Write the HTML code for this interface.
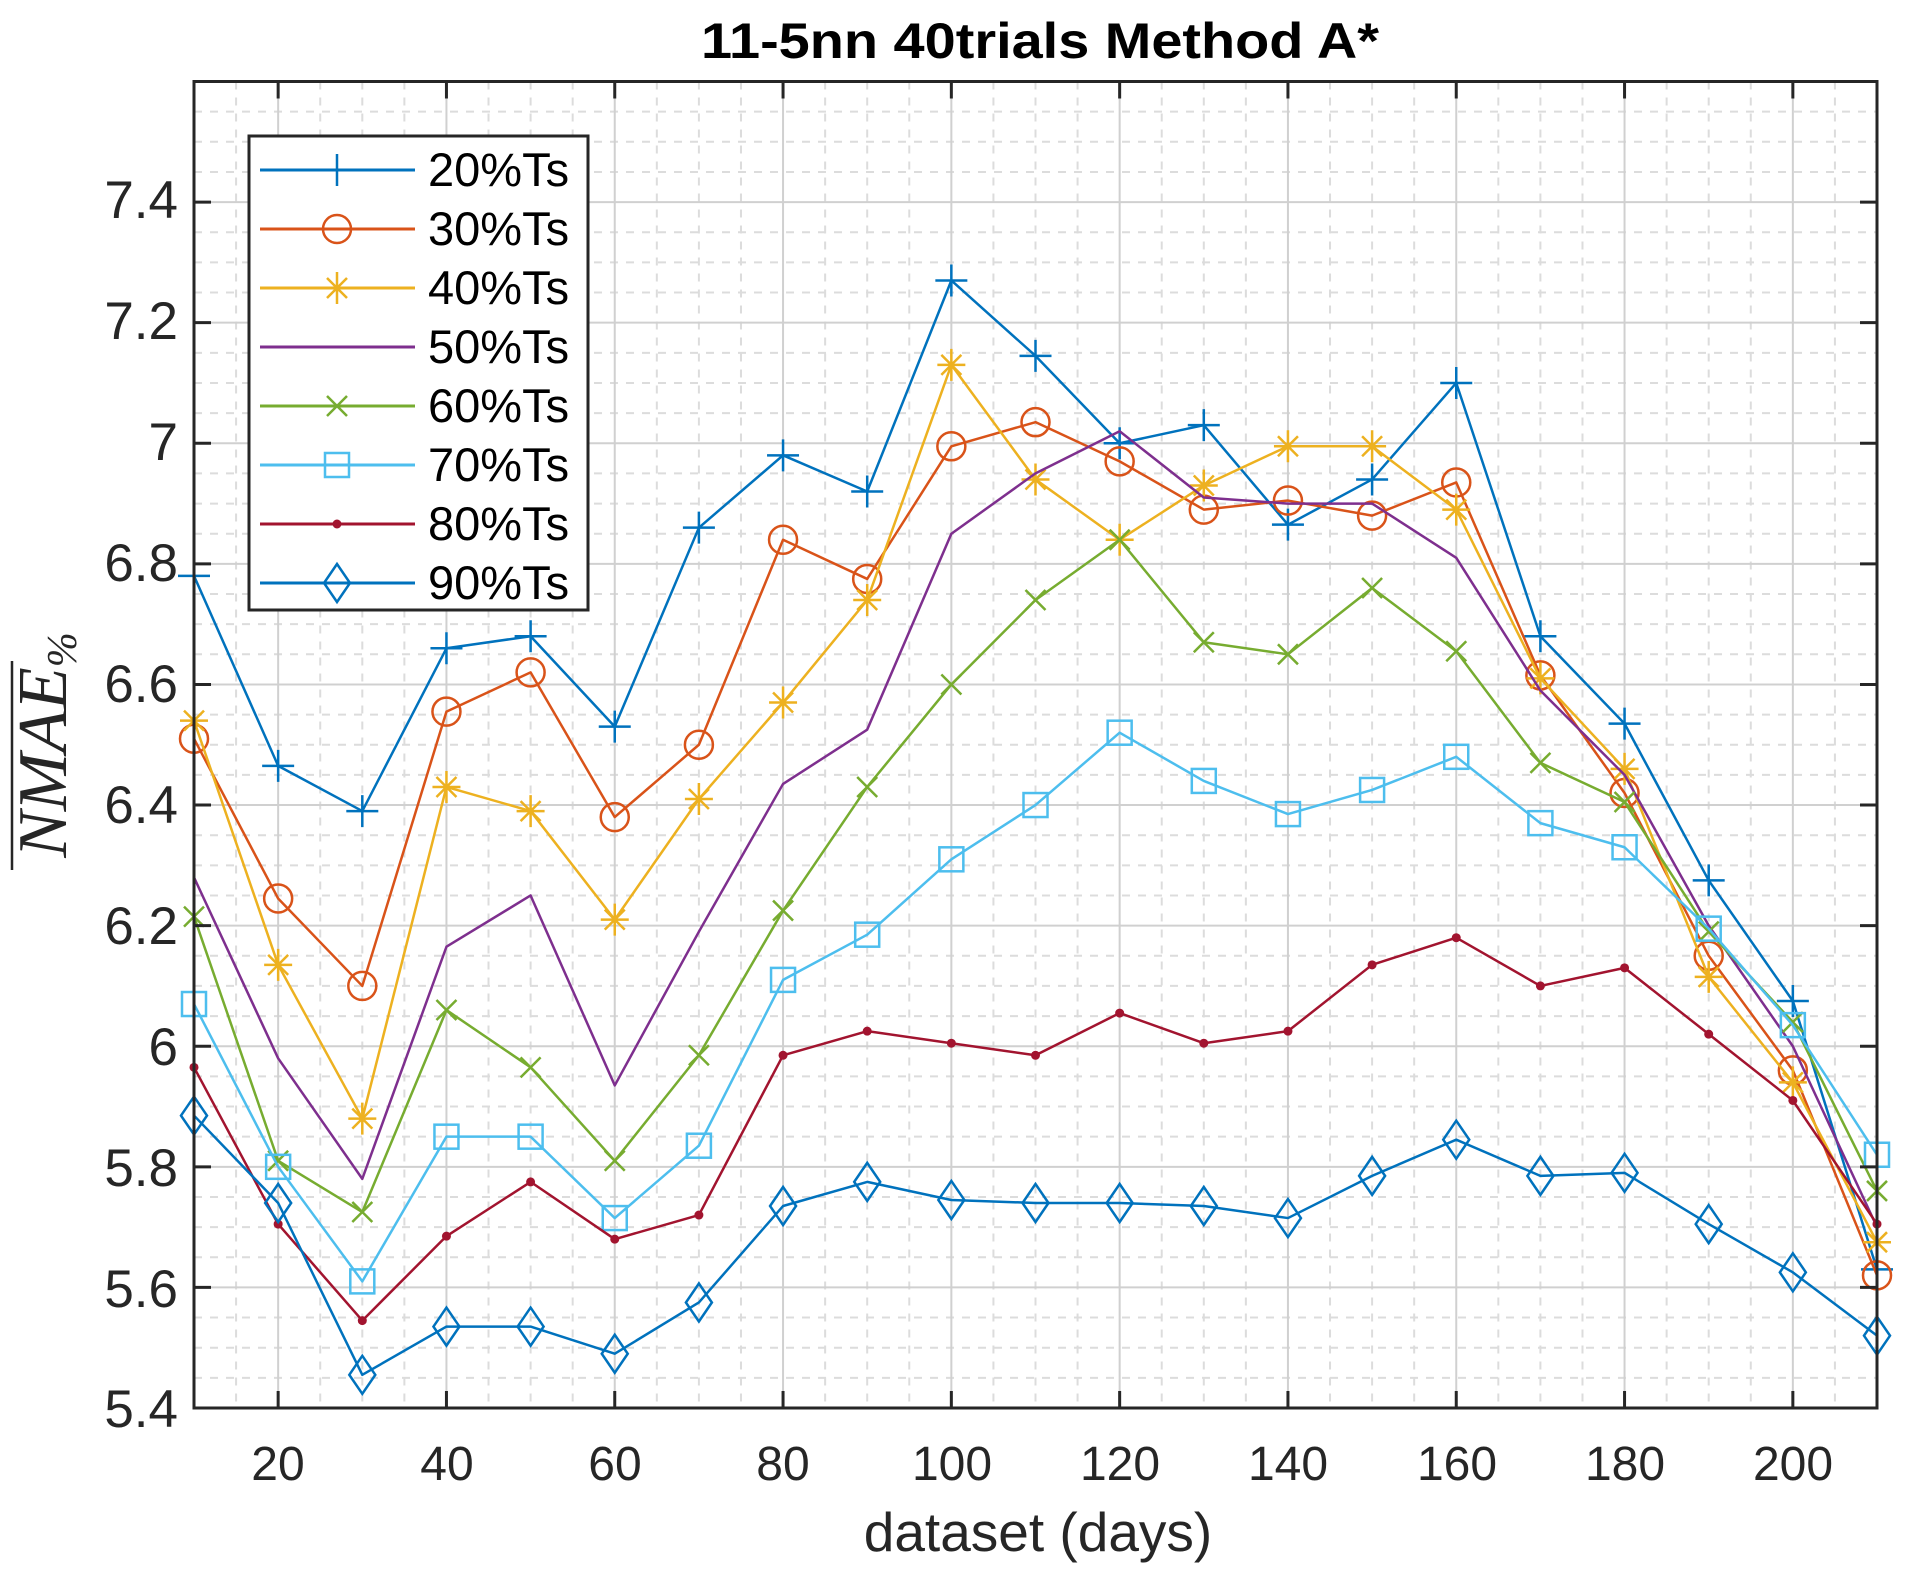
<!DOCTYPE html>
<html><head><meta charset="utf-8"><style>
html,body{margin:0;padding:0;background:#fff;}
svg{display:block;font-family:"Liberation Sans",Arial,sans-serif;}
</style></head><body>
<svg id="s" width="1925" height="1575" viewBox="0 0 1925 1575" xmlns="http://www.w3.org/2000/svg">
<rect width="1925" height="1575" fill="#fff"/>
<g id="grid"></g>
<g id="series"></g>
<rect x="194" y="81.5" width="1683" height="1326.5" fill="none" stroke="#262626" stroke-width="3"/>
<g id="ticks"></g>
<text x="1040" y="58" font-size="50" font-weight="bold" text-anchor="middle" fill="#000" textLength="678" lengthAdjust="spacingAndGlyphs">11-5nn 40trials Method A*</text>
<g font-size="53" fill="#262626" text-anchor="end">
<text x="178" y="218">7.4</text>
<text x="178" y="339">7.2</text>
<text x="178" y="460">7</text>
<text x="178" y="581">6.8</text>
<text x="178" y="702">6.6</text>
<text x="178" y="823">6.4</text>
<text x="178" y="944">6.2</text>
<text x="178" y="1065">6</text>
<text x="178" y="1186">5.8</text>
<text x="178" y="1307">5.6</text>
<text x="178" y="1427">5.4</text>
</g>
<g font-size="48" fill="#262626" text-anchor="middle">
<text x="278" y="1480">20</text>
<text x="447" y="1480">40</text>
<text x="615" y="1480">60</text>
<text x="783" y="1480">80</text>
<text x="952" y="1480">100</text>
<text x="1120" y="1480">120</text>
<text x="1288" y="1480">140</text>
<text x="1457" y="1480">160</text>
<text x="1625" y="1480">180</text>
<text x="1793" y="1480">200</text>
</g>
<text x="1038" y="1551" font-size="55" fill="#262626" text-anchor="middle">dataset (days)</text>
<g transform="translate(66,745) rotate(-90)" fill="#262626">
<text x="0" y="0" font-size="70" font-style="italic" font-family="Liberation Serif,serif" text-anchor="middle">NMAE<tspan font-size="42" dy="10">%</tspan></text>
<line x1="-125" y1="-54" x2="84" y2="-54" stroke="#262626" stroke-width="2.5"/>
</g>
<g id="legend">
<rect x="249" y="136" width="339" height="474" fill="#fff" stroke="#262626" stroke-width="3"/>
<g font-size="47" fill="#000">
<text x="428" y="186">20%Ts</text>
<text x="428" y="245">30%Ts</text>
<text x="428" y="304">40%Ts</text>
<text x="428" y="363">50%Ts</text>
<text x="428" y="422">60%Ts</text>
<text x="428" y="481">70%Ts</text>
<text x="428" y="540">80%Ts</text>
<text x="428" y="599">90%Ts</text>
</g>
</g>
</svg>
<script>
const NS="http://www.w3.org/2000/svg";
const X0=194,X1=1877,Y0=1408,Ytop=81.5;
const xs=v=>X0+(v-10)*(X1-X0)/200;
const ys=v=>Y0-(v-5.4)*(Y0-Ytop)/2.2;
function el(p,t,a){const e=document.createElementNS(NS,t);for(const k in a)e.setAttribute(k,a[k]);p.appendChild(e);return e;}
const g=document.getElementById('grid');
for(let v=15;v<210;v+=5){if(v%20==0)continue;el(g,'line',{x1:xs(v),x2:xs(v),y1:Ytop,y2:Y0,stroke:'#dcdcdc','stroke-width':2,'stroke-dasharray':'8,8'});}
for(let i=1;i<44;i++){const v=5.4+i*0.05;if(i%4==0)continue;el(g,'line',{x1:X0,x2:X1,y1:ys(v),y2:ys(v),stroke:'#dcdcdc','stroke-width':2,'stroke-dasharray':'8,8'});}
for(let v=20;v<=200;v+=20)el(g,'line',{x1:xs(v),x2:xs(v),y1:Ytop,y2:Y0,stroke:'#d0d0d0','stroke-width':2});
for(let i=1;i<=10;i++){const v=5.4+i*0.2;el(g,'line',{x1:X0,x2:X1,y1:ys(v),y2:ys(v),stroke:'#d0d0d0','stroke-width':2});}
const t=document.getElementById('ticks');
for(let v=20;v<=200;v+=20){el(t,'line',{x1:xs(v),x2:xs(v),y1:Y0,y2:Y0-17,stroke:'#262626','stroke-width':3});el(t,'line',{x1:xs(v),x2:xs(v),y1:Ytop,y2:Ytop+17,stroke:'#262626','stroke-width':3});}
for(let i=0;i<=10;i++){const y=ys(5.4+i*0.2);el(t,'line',{x1:X0,x2:X0+17,y1:y,y2:y,stroke:'#262626','stroke-width':3});el(t,'line',{x1:X1,x2:X1-17,y1:y,y2:y,stroke:'#262626','stroke-width':3});}
const D=[
['#0072BD','+',[6.78,6.465,6.39,6.66,6.68,6.53,6.86,6.98,6.92,7.27,7.145,7.0,7.03,6.865,6.94,7.10,6.68,6.535,6.275,6.075,5.63]],
['#D95319','o',[6.51,6.245,6.10,6.555,6.62,6.38,6.50,6.84,6.775,6.995,7.035,6.97,6.89,6.905,6.88,6.935,6.615,6.42,6.15,5.96,5.62]],
['#EDB120','*',[6.54,6.135,5.88,6.43,6.39,6.21,6.41,6.57,6.74,7.13,6.94,6.84,6.93,6.995,6.995,6.89,6.61,6.46,6.115,5.94,5.675]],
['#7E2F8E','',[6.28,5.98,5.78,6.165,6.25,5.935,6.19,6.435,6.525,6.85,6.95,7.02,6.91,6.9,6.9,6.81,6.59,6.45,6.2,6.0,5.70]],
['#77AC30','x',[6.215,5.81,5.725,6.06,5.965,5.81,5.985,6.225,6.43,6.60,6.74,6.84,6.67,6.65,6.76,6.655,6.47,6.405,6.19,6.04,5.76]],
['#4DBEEE','s',[6.07,5.80,5.61,5.85,5.85,5.715,5.835,6.11,6.185,6.31,6.40,6.52,6.44,6.385,6.425,6.48,6.37,6.33,6.195,6.035,5.82]],
['#A2142F','.',[5.965,5.705,5.545,5.685,5.775,5.68,5.72,5.985,6.025,6.005,5.985,6.055,6.005,6.025,6.135,6.18,6.10,6.13,6.02,5.91,5.705]],
['#0072BD','d',[5.885,5.74,5.455,5.535,5.535,5.49,5.575,5.735,5.775,5.745,5.74,5.74,5.735,5.715,5.785,5.845,5.785,5.79,5.705,5.625,5.52]]];
function mk(p,m,x,y,c){const a={fill:'none',stroke:c,'stroke-width':2.5};
 if(m=='+'){el(p,'path',Object.assign({d:`M${x-16},${y}H${x+16}M${x},${y-16}V${y+16}`},a));}
 else if(m=='o'){el(p,'circle',Object.assign({cx:x,cy:y,r:14},a));}
 else if(m=='*'){el(p,'path',Object.assign({d:`M${x-14},${y}H${x+14}M${x},${y-16}V${y+16}M${x-10},${y-10}L${x+10},${y+10}M${x-10},${y+10}L${x+10},${y-10}`},a));}
 else if(m=='x'){el(p,'path',Object.assign({d:`M${x-10},${y-10}L${x+10},${y+10}M${x-10},${y+10}L${x+10},${y-10}`},a));}
 else if(m=='s'){el(p,'rect',Object.assign({x:x-12,y:y-12,width:24,height:24},a));}
 else if(m=='.'){el(p,'circle',{cx:x,cy:y,r:4.5,fill:c});}
 else if(m=='d'){el(p,'path',Object.assign({d:`M${x},${y-19}L${x+13},${y}L${x},${y+19}L${x-13},${y}Z`},a));}}
const s=document.getElementById('series');
const L=document.getElementById('legend');
D.forEach((d,i)=>{const pts=d[2].map((v,j)=>[xs(10+10*j),ys(v)]);
 el(s,'polyline',{points:pts.map(p=>p.join(',')).join(' '),fill:'none',stroke:d[0],'stroke-width':2.5,'stroke-linejoin':'round'});
 pts.forEach(p=>mk(s,d[1],p[0],p[1],d[0]));
 const ly=170+i*59;
 el(L,'line',{x1:260,x2:415,y1:ly,y2:ly,stroke:d[0],'stroke-width':3});
 mk(L,d[1],337,ly,d[0]);});
</script>
</body></html>
